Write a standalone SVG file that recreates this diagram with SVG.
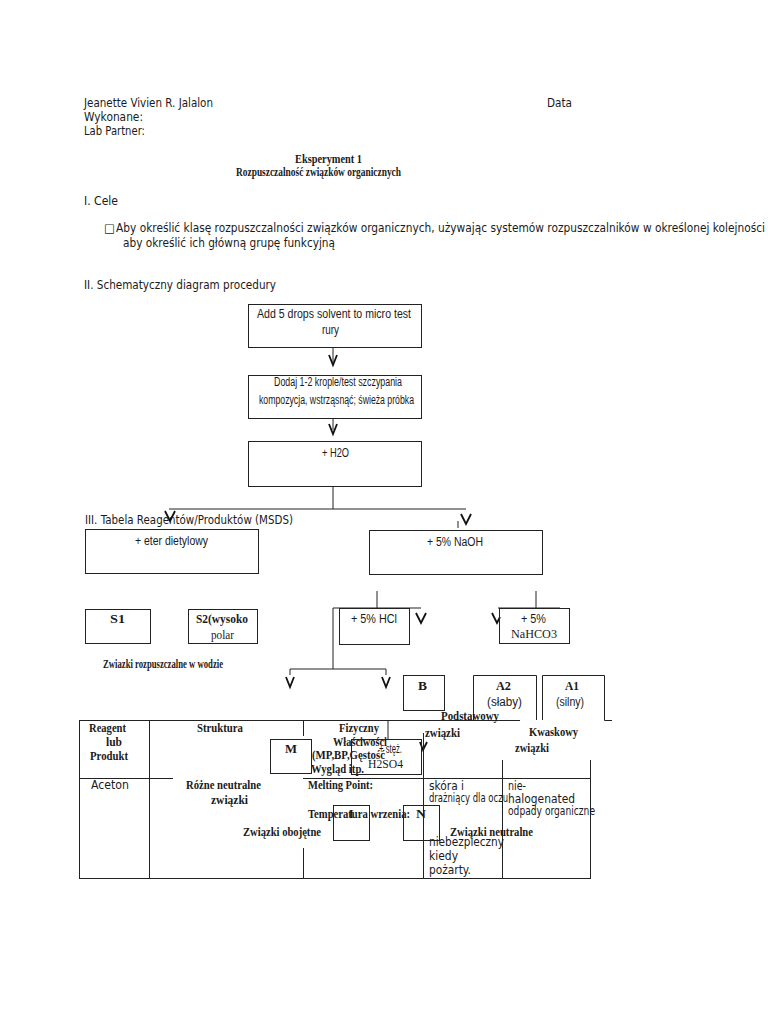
<svg xmlns="http://www.w3.org/2000/svg" width="768" height="1024" viewBox="0 0 768 1024">
<style>
.s{font-family:"DejaVu Sans","Noto Sans",sans-serif;font-size:11.5px;fill:#1a1a1a}
.a{font-family:"Liberation Sans",Arial,sans-serif;font-size:12px;fill:#1a1a1a}
.b{font-family:"Liberation Serif","Times New Roman",serif;font-weight:bold;font-size:11.5px;fill:#1a1a1a}
.r{font-family:"Liberation Serif","Times New Roman",serif;font-size:12px;fill:#1a1a1a}
.box{fill:none;stroke:#222;stroke-width:1}
.ln{fill:none;stroke:#222;stroke-width:1}
.v{fill:none;stroke:#111;stroke-width:1.8}
</style>
<rect width="768" height="1024" fill="#fff"/>

<g id="header">
<text class="s" x="84" y="107" textLength="129" lengthAdjust="spacingAndGlyphs">Jeanette Vivien R. Jalalon</text>
<text class="s" x="547" y="107" textLength="25" lengthAdjust="spacingAndGlyphs">Data</text>
<text class="s" x="84" y="121" textLength="59" lengthAdjust="spacingAndGlyphs">Wykonane:</text>
<text class="s" x="84" y="135" textLength="61" lengthAdjust="spacingAndGlyphs">Lab Partner:</text>
<text class="b" x="295" y="163" font-size="13" textLength="67" lengthAdjust="spacingAndGlyphs">Eksperyment 1</text>
<text class="b" x="236" y="176" font-size="10.5" textLength="165" lengthAdjust="spacingAndGlyphs">Rozpuszczalność związków organicznych</text>
<text class="s" x="84" y="205" textLength="34" lengthAdjust="spacingAndGlyphs">I. Cele</text>
<text class="s" x="104" y="232" font-size="10">□</text>
<text class="s" x="116" y="232" textLength="649" lengthAdjust="spacingAndGlyphs">Aby określić klasę rozpuszczalności związków organicznych, używając systemów rozpuszczalników w określonej kolejności</text>
<text class="s" x="123" y="247" textLength="212" lengthAdjust="spacingAndGlyphs">aby określić ich główną grupę funkcyjną</text>
<text class="s" x="84" y="289" textLength="192" lengthAdjust="spacingAndGlyphs">II. Schematyczny diagram procedury</text>
<text class="s" x="85" y="524" textLength="208" lengthAdjust="spacingAndGlyphs">III. Tabela Reagentów/Produktów (MSDS)</text>
</g>

<g id="connectors">
<line class="ln" x1="333" y1="347" x2="333" y2="362"/>
<polyline class="v" points="329,355 333,365 337,355"/>
<line class="ln" x1="333" y1="418" x2="333" y2="430"/>
<polyline class="v" points="329,424 333,434 337,424"/>
<line class="ln" x1="333" y1="487" x2="333" y2="509"/>
<line class="ln" x1="169" y1="509" x2="466" y2="509"/>
<polyline class="v" points="165,511 170,521 175,511"/>
<polyline class="v" points="461,514 466,524 471,514"/>
<line class="ln" x1="458" y1="521" x2="458" y2="528"/>
<line class="ln" x1="377" y1="591" x2="377" y2="608"/>
<line class="ln" x1="536" y1="591" x2="536" y2="608"/>
<line class="ln" x1="333" y1="608" x2="421" y2="608"/>
<line class="ln" x1="498" y1="608" x2="560" y2="608"/>
<polyline class="v" points="416,613 421,623 426,613"/>
<polyline class="v" points="492,613 497,623 500,617"/>
<line class="ln" x1="333" y1="608" x2="333" y2="669"/>
<line class="ln" x1="290" y1="669" x2="386" y2="669"/>
<line class="ln" x1="290" y1="669" x2="290" y2="675"/>
<line class="ln" x1="386" y1="669" x2="386" y2="675"/>
<polyline class="v" points="286,677 290,687 294,677"/>
<polyline class="v" points="382,677 386,687 390,677"/>
<polyline class="v" points="420,742 423,750 427,742"/>
<line class="ln" x1="388" y1="720" x2="388" y2="739"/>
</g>

<g id="n-add">
<rect class="box" x="248.5" y="304.5" width="173" height="43"/>
<text class="a" x="257" y="318" textLength="154" lengthAdjust="spacingAndGlyphs">Add 5 drops solvent to micro test</text>
<text class="a" x="322" y="334" textLength="17" lengthAdjust="spacingAndGlyphs">rury</text>
</g>
<g id="n-dodaj">
<rect class="box" x="248.5" y="375.5" width="173" height="43"/>
<text class="a" x="274" y="386" font-size="10.5" textLength="128" lengthAdjust="spacingAndGlyphs">Dodaj 1-2 krople/test szczypania</text>
<text class="a" x="259" y="404" font-size="10.5" textLength="155" lengthAdjust="spacingAndGlyphs">kompozycja, wstrząsnąć; świeża próbka</text>
</g>
<g id="n-h2o">
<rect class="box" x="248.5" y="441.5" width="173" height="45"/>
<text class="a" x="322" y="457" textLength="27" lengthAdjust="spacingAndGlyphs">+ H2O</text>
</g>
<g id="n-eter">
<rect class="box" x="85.5" y="529.5" width="173" height="44"/>
<text class="a" x="135" y="545" textLength="73" lengthAdjust="spacingAndGlyphs">+ eter dietylowy</text>
</g>
<g id="n-naoh">
<rect class="box" x="369.5" y="530.5" width="173" height="44"/>
<text class="a" x="427" y="546" textLength="56" lengthAdjust="spacingAndGlyphs">+ 5% NaOH</text>
</g>
<g id="n-hcl">
<rect class="box" x="339.5" y="608.5" width="70" height="36"/>
<text class="a" x="351" y="623" textLength="46" lengthAdjust="spacingAndGlyphs">+ 5% HCl</text>
</g>
<g id="n-nahco3">
<rect class="box" x="499.5" y="608.5" width="70" height="35"/>
<text class="a" x="521" y="623" textLength="25" lengthAdjust="spacingAndGlyphs">+ 5%</text>
<text class="r" x="511" y="638" textLength="46" lengthAdjust="spacingAndGlyphs">NaHCO3</text>
</g>
<g id="n-s1">
<rect class="box" x="85.5" y="609.5" width="65" height="34"/>
<text class="b" x="110" y="623" textLength="15" lengthAdjust="spacingAndGlyphs">S1</text>
</g>
<g id="n-s2">
<rect class="box" x="188.5" y="609.5" width="69" height="34"/>
<text class="b" x="196" y="623" textLength="52" lengthAdjust="spacingAndGlyphs">S2(wysoko</text>
<text class="r" x="211" y="639" textLength="23" lengthAdjust="spacingAndGlyphs">polar</text>
</g>
<g id="t-rozp">
<text class="b" x="103" y="668" font-size="10.5" textLength="120" lengthAdjust="spacingAndGlyphs">Zwiazki rozpuszczalne w wodzie</text>
</g>
<g id="n-b">
<rect class="box" x="403.5" y="675.5" width="41" height="35"/>
<text class="b" x="418" y="690" textLength="9" lengthAdjust="spacingAndGlyphs">B</text>
</g>
<g id="n-a2">
<path class="box" d="M473.5,720 V675.5 H536.5 V720"/>
<text class="b" x="496" y="690" textLength="15" lengthAdjust="spacingAndGlyphs">A2</text>
<text class="a" x="487" y="706" textLength="35" lengthAdjust="spacingAndGlyphs">(słaby)</text>
</g>
<g id="n-a1">
<path class="box" d="M542.5,720 V675.5 H604.5 V720.5 H612"/>
<text class="b" x="565" y="690" textLength="14" lengthAdjust="spacingAndGlyphs">A1</text>
<text class="a" x="556" y="706" textLength="28" lengthAdjust="spacingAndGlyphs">(silny)</text>
</g>

<g id="table">
<line class="ln" x1="79" y1="720.5" x2="520" y2="720.5"/>
<line class="ln" x1="79.5" y1="720" x2="79.5" y2="878"/>
<line class="ln" x1="79" y1="878.5" x2="591" y2="878.5"/>
<line class="ln" x1="149.5" y1="720" x2="149.5" y2="878"/>
<line class="ln" x1="303.5" y1="720" x2="303.5" y2="736"/>
<line class="ln" x1="303.5" y1="848" x2="303.5" y2="878"/>
<line class="ln" x1="423.5" y1="733" x2="423.5" y2="878"/>
<line class="ln" x1="502.5" y1="760" x2="502.5" y2="878"/>
<line class="ln" x1="590.5" y1="760" x2="590.5" y2="878"/>
<line class="ln" x1="79" y1="778.5" x2="173" y2="778.5"/>
<line class="ln" x1="303" y1="778.5" x2="591" y2="778.5"/>
<text class="b" x="89" y="732" textLength="37" lengthAdjust="spacingAndGlyphs">Reagent</text>
<text class="b" x="106" y="746" textLength="16" lengthAdjust="spacingAndGlyphs">lub</text>
<text class="b" x="90" y="760" textLength="38" lengthAdjust="spacingAndGlyphs">Produkt</text>
<text class="b" x="197" y="732" textLength="46" lengthAdjust="spacingAndGlyphs">Struktura</text>
<text class="b" x="339" y="732" textLength="40" lengthAdjust="spacingAndGlyphs">Fizyczny</text>
<text class="b" x="333" y="746" textLength="54" lengthAdjust="spacingAndGlyphs">Właściwości</text>
<text class="b" x="312" y="759" textLength="73" lengthAdjust="spacingAndGlyphs">(MP,BP,Gęstość</text>
<text class="b" x="311" y="773" textLength="53" lengthAdjust="spacingAndGlyphs">Wygląd itp.</text>
<text class="b" x="441" y="720" textLength="58" lengthAdjust="spacingAndGlyphs">Podstawowy</text>
<text class="b" x="425" y="737" textLength="35" lengthAdjust="spacingAndGlyphs">związki</text>
<text class="b" x="529" y="736" textLength="49" lengthAdjust="spacingAndGlyphs">Kwaskowy</text>
<text class="b" x="515" y="752" textLength="34" lengthAdjust="spacingAndGlyphs">związki</text>
<text class="s" x="91" y="789" textLength="38" lengthAdjust="spacingAndGlyphs">Aceton</text>
<text class="b" x="186" y="789" textLength="75" lengthAdjust="spacingAndGlyphs">Różne neutralne</text>
<text class="b" x="211" y="804" textLength="37" lengthAdjust="spacingAndGlyphs">związki</text>
<text class="b" x="308" y="789" textLength="65" lengthAdjust="spacingAndGlyphs">Melting Point:</text>
<text class="b" x="308" y="818" textLength="102" lengthAdjust="spacingAndGlyphs">Temperatura wrzenia:</text>
<text class="b" x="243" y="836" textLength="78" lengthAdjust="spacingAndGlyphs">Związki obojętne</text>
<text class="b" x="450" y="836" textLength="83" lengthAdjust="spacingAndGlyphs">Związki neutralne</text>
<text class="s" x="429" y="790" font-size="12" textLength="35" lengthAdjust="spacingAndGlyphs">skóra i</text>
<text class="s" x="429" y="802" font-size="10" textLength="79" lengthAdjust="spacingAndGlyphs">drażniący dla oczu</text>
<text class="s" x="429" y="846" font-size="12" textLength="75" lengthAdjust="spacingAndGlyphs">niebezpieczny</text>
<text class="s" x="429" y="860" font-size="12" textLength="29" lengthAdjust="spacingAndGlyphs">kiedy</text>
<text class="s" x="429" y="874" font-size="12" textLength="42" lengthAdjust="spacingAndGlyphs">pożarty.</text>
<text class="s" x="508" y="790" font-size="12" textLength="18" lengthAdjust="spacingAndGlyphs">nie-</text>
<text class="s" x="508" y="803" font-size="12" textLength="67" lengthAdjust="spacingAndGlyphs">halogenated</text>
<text class="s" x="508" y="815" font-size="10" textLength="87" lengthAdjust="spacingAndGlyphs">odpady organiczne</text>
</g>

<g id="n-m">
<rect class="box" x="270.5" y="739.5" width="41" height="34"/>
<text class="b" x="285" y="753" textLength="12" lengthAdjust="spacingAndGlyphs">M</text>
</g>
<g id="n-h2so4">
<rect class="box" x="351.5" y="739.5" width="70" height="35"/>
<text class="a" x="379" y="753" textLength="23" lengthAdjust="spacingAndGlyphs">+ stęż.</text>
<text class="r" x="368" y="768" textLength="35" lengthAdjust="spacingAndGlyphs">H2SO4</text>
</g>
<g id="n-i">
<rect class="box" x="333.5" y="805.5" width="36" height="35"/>
<text class="b" x="349" y="818">I</text>
</g>
<g id="n-n">
<rect class="box" x="403.5" y="805.5" width="36" height="35"/>
<text class="b" x="416" y="818" textLength="10" lengthAdjust="spacingAndGlyphs">N</text>
</g>
</svg>
